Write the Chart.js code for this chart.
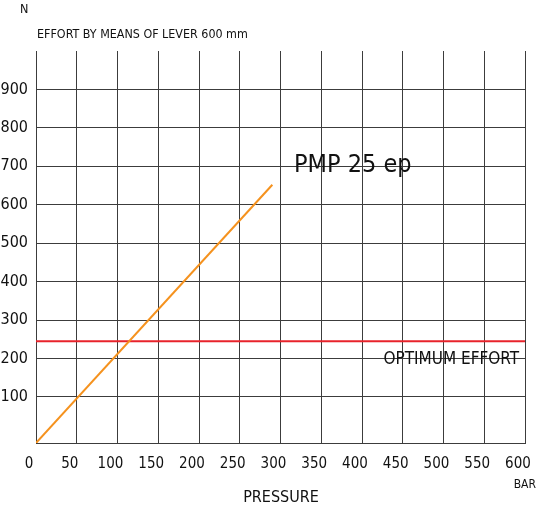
<!DOCTYPE html>
<html>
<head>
<meta charset="utf-8">
<script src="https://cdn.jsdelivr.net/npm/chart.js@4.4.1/dist/chart.umd.min.js"></script>
<style>
  html, body { margin: 0; padding: 0; background: #fff; }
  #wrap { width: 538px; height: 508px; position: relative; }
</style>
</head>
<body>
<div id="wrap"><canvas id="effortChart"></canvas></div>
<script>
// pump curve (bar -> N)
var pressure = [0, 290];
var effort = [-20, 652];

// optimum effort reference line
var optimumPressure = [0, 600];
var optimumEffort = [245, 245];

var yTicks = [100, 200, 300, 400, 500, 600, 700, 800, 900];

var FONT = "'DejaVu Sans Condensed', 'DejaVu Sans', sans-serif";
var INK = "#111";
var GRID = "#3c3c3c";

function points(xs, ys) {
  return xs.map(function(x, i) { return { x: x, y: ys[i] }; });
}

var labelsPlugin = {
  id: "labels",
  afterDraw: function(chart) {
    var ctx = chart.ctx;
    ctx.save();
    ctx.fillStyle = INK;
    ctx.textBaseline = "alphabetic";

    ctx.font = "12.5px " + FONT;
    ctx.textAlign = "left";
    ctx.fillText("N", 20, 13);
    ctx.font = "12.4px " + FONT;
    ctx.fillText("EFFORT BY MEANS OF LEVER 600 mm", 37, 38);

    ctx.font = "25px " + FONT;
    ctx.fillText("PMP 25 ep", 294, 172);

    ctx.font = "17px " + FONT;
    ctx.textAlign = "right";
    ctx.fillText("OPTIMUM EFFORT", 519, 364);

    ctx.font = "12px " + FONT;
    ctx.fillText("BAR", 536, 488);

    ctx.font = "16px " + FONT;
    ctx.textAlign = "center";
    ctx.fillText("PRESSURE", 281, 502);
    ctx.restore();
  }
};

window.onload = function() {
  var ctx = document.getElementById("effortChart").getContext("2d");

  new Chart(ctx, {
    type: "line",
    data: {
      datasets: [
        {
          label: "PMP 25 ep",
          data: points(pressure, effort),
          borderColor: "#f5921e",
          borderWidth: 2,
          pointRadius: 0,
          tension: 0
        },
        {
          label: "OPTIMUM EFFORT",
          data: points(optimumPressure, optimumEffort),
          borderColor: "#e8232b",
          borderWidth: 2,
          pointRadius: 0,
          tension: 0
        }
      ]
    },
    options: {
      responsive: true,
      maintainAspectRatio: false,
      animation: false,
      layout: { padding: { top: 51, right: 0, left: 0, bottom: 0 } },
      plugins: {
        legend: { display: false },
        tooltip: { enabled: false }
      },
      scales: {
        x: {
          type: "linear",
          min: 0,
          max: 600,
          afterFit: function(scale) {
            scale.height = 65;
            scale.paddingLeft = 0;
            scale.paddingRight = 13;
          },
          ticks: {
            stepSize: 50,
            autoSkip: false,
            maxRotation: 0,
            labelOffset: -7,
            padding: 12,
            color: INK,
            font: { family: FONT, size: 15 }
          },
          grid: { color: GRID, lineWidth: 1, drawTicks: false },
          border: { display: true, color: GRID, width: 1 }
        },
        y: {
          type: "linear",
          min: -20,
          max: 1000,
          afterFit: function(scale) { scale.width = 36; },
          afterBuildTicks: function(scale) {
            scale.ticks = yTicks.map(function(v) { return { value: v }; });
          },
          ticks: {
            padding: 8,
            color: INK,
            font: { family: FONT, size: 16 }
          },
          grid: { color: GRID, lineWidth: 1, drawTicks: false },
          border: { display: true, color: GRID, width: 1 }
        }
      }
    },
    plugins: [labelsPlugin]
  });
};
</script>
</body>
</html>
